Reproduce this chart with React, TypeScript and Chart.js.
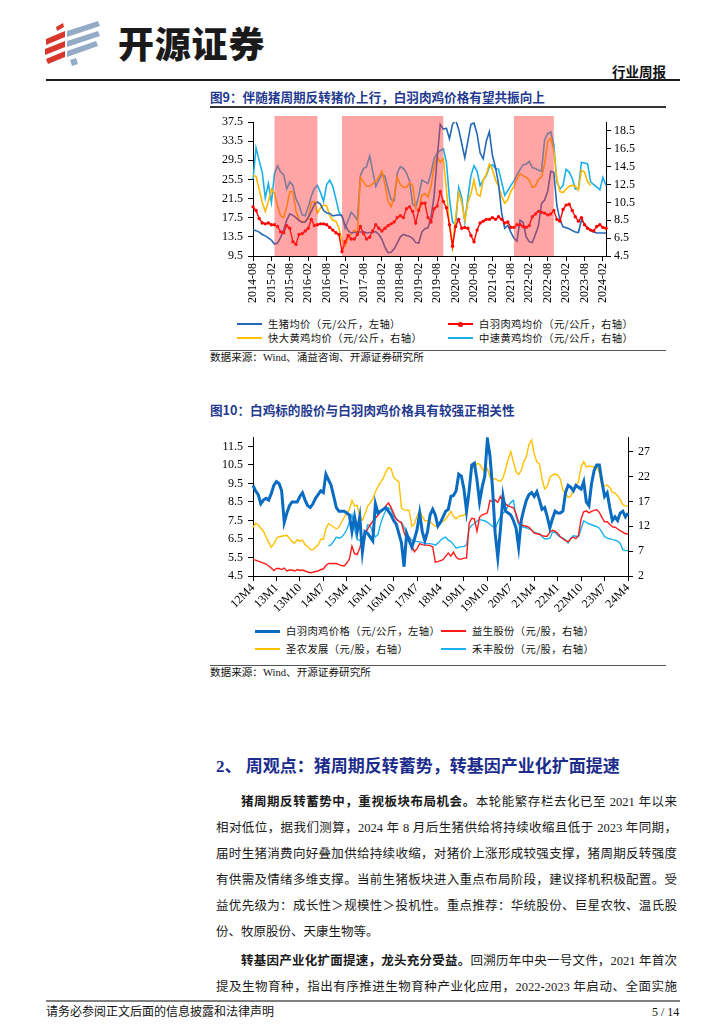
import React, { useEffect, useRef } from 'react';
import { Chart, registerables } from 'chart.js';

Chart.register(...registerables);

const CJK = '"Noto Sans CJK SC", "Noto Sans", sans-serif';
const MIX = '"Liberation Serif", "Noto Sans CJK SC", serif';
const TICK_FONT = { family: '"Liberation Serif", serif', size: 12 };

function buildMonthLabels(startYear: number, startMonth: number, count: number, fmt: (y: number, m: number) => string) {
  const out: string[] = [];
  let y = startYear;
  let m = startMonth;
  for (let i = 0; i < count; i++) {
    out.push(fmt(y, m));
    m++;
    if (m > 12) { m = 1; y++; }
  }
  return out;
}

// ---------------- Figure 9 ----------------
const fig9Labels = buildMonthLabels(2014, 8, 116, (y, m) => `${y}-${String(m).padStart(2, '0')}`);
const fig9LabelEvery = 6;
const fig9LeftTicks = [9.5, 13.5, 17.5, 21.5, 25.5, 29.5, 33.5, 37.5];
const fig9RightTicks = [4.5, 6.5, 8.5, 10.5, 12.5, 14.5, 16.5, 18.5];
const fig9ShadePeriods = [
  ['2015-03', '2016-05'],
  ['2017-01', '2019-10'],
  ['2021-09', '2022-10'],
];
const fig9Names = [
  '生猪均价（元/公斤，左轴）',
  '白羽肉鸡均价（元/公斤，右轴）',
  '快大黄鸡均价（元/公斤，右轴）',
  '中速黄鸡均价（元/公斤，右轴）',
];

const hogPrice = [
  15.0, 14.8, 14.5, 14.0, 13.7, 13.3, 12.8, 12.0, 12.2, 13.4,
  15.0, 17.0, 18.3, 18.0, 17.5, 16.9, 16.5, 16.6, 17.6, 18.8,
  20.3, 20.8, 20.3, 19.0, 18.5, 18.4, 17.9, 18.0, 18.1, 17.9,
  16.0, 14.8, 14.3, 14.4, 14.5, 14.5, 14.6, 14.3, 14.4, 14.4,
  14.6, 14.0, 13.0, 11.3, 10.2, 10.3, 11.0, 12.2, 13.5, 14.0,
  13.8, 13.6, 13.2, 12.3, 12.2, 14.5, 15.2, 15.4, 17.5, 22.0,
  30.0, 37.0, 36.0, 36.2, 34.0, 37.0, 37.9, 36.0, 33.0, 30.0,
  33.5, 37.0, 37.3, 35.0, 31.0, 29.8, 33.5, 35.5, 30.5, 28.0,
  24.5, 18.5, 15.3, 15.9, 14.5, 13.2, 12.6, 17.0, 16.5, 13.5,
  12.5, 12.3, 14.0, 15.8, 20.5, 21.2, 23.0, 27.2, 27.0, 20.0,
  17.0, 15.6, 15.4, 15.2, 14.8, 14.5, 14.4, 17.0, 16.2, 15.3,
  14.8, 14.5, 14.3, 14.3, 14.3, 14.3,
];

const whiteBroilerAvg = [
  10.0, 9.6, 8.7, 8.2, 8.1, 8.2, 8.0, 8.0, 7.8, 7.2,
  7.1, 7.9, 7.6, 6.1, 5.8, 6.9, 7.0, 7.3, 7.6, 8.6,
  7.9, 8.0, 8.1, 8.1, 8.0, 7.7, 7.4, 7.1, 6.9, 5.0,
  6.1, 6.8, 6.4, 6.4, 6.9, 7.8, 7.0, 6.4, 6.6, 7.3,
  8.0, 7.6, 7.3, 7.6, 7.9, 8.1, 8.3, 8.8, 9.0, 8.8,
  9.8, 10.0, 9.5, 8.2, 9.6, 10.4, 10.4, 8.8, 8.3, 9.8,
  10.1, 11.7, 10.6, 9.9, 8.0, 5.6, 7.8, 8.6, 7.6, 7.7,
  7.6, 6.8, 6.1, 7.4, 8.2, 8.4, 8.6, 8.6, 8.8, 8.6,
  8.9, 8.6, 8.2, 8.3, 7.7, 7.7, 8.0, 8.0, 7.8, 7.7,
  7.9, 8.9, 9.2, 9.5, 9.4, 9.3, 9.1, 9.2, 9.6, 8.6,
  8.4, 9.7, 10.2, 10.3, 9.6, 8.9, 8.4, 8.8, 8.0, 7.6,
  7.4, 7.3, 7.8, 8.0, 7.7, 7.6,
];

const fastYellowAvg = [
  13.5, 13.4, 12.0, 10.5, 9.5, 10.6, 12.0, 11.5, 10.1, 9.0,
  8.8, 10.0, 11.7, 11.7, 9.5, 8.6, 8.3, 8.4, 8.7, 10.5,
  10.6, 9.3, 9.9, 10.2, 10.1, 9.0, 8.5, 8.4, 7.6, 6.2,
  5.6, 6.6, 7.0, 7.4, 7.1, 13.3, 12.8, 12.3, 12.3, 12.6,
  12.9, 13.3, 14.0, 12.5, 10.6, 10.0, 11.2, 13.3, 12.5, 12.2,
  12.2, 12.7, 12.4, 9.8, 9.7, 11.3, 11.5, 11.1, 12.3, 14.5,
  15.6, 15.0, 15.4, 12.0, 8.0, 5.5, 8.8, 11.6, 10.5, 8.5,
  10.5, 11.5, 13.0, 11.4, 11.2, 13.0, 13.6, 14.8, 14.2, 13.0,
  12.3, 11.2, 10.4, 10.8, 11.7, 12.3, 13.2, 13.7, 13.5, 13.3,
  13.0, 12.2, 12.3, 13.1, 13.3, 14.8, 17.3, 17.7, 16.3, 13.0,
  11.7, 11.6, 12.0, 12.3, 12.4, 12.3, 11.9, 14.1, 13.9, 12.8,
  12.4, null, null, null, null, null,
];

const mediumYellowAvg = [
  13.1, 16.6, 15.2, 13.9, 11.0, 12.6, 10.5, 13.7, 14.6, 13.9,
  13.6, 12.0, 12.8, 12.4, 10.9, 10.2, 9.1, 9.0, 10.0, 11.2,
  12.1, 12.4, 11.6, 10.6, 12.5, 13.0, 12.3, 10.9, 9.4, 9.0,
  7.6, 8.5, 9.4, 9.0, 8.5, 13.5, 14.3, 14.5, 15.7, 14.0,
  12.3, 13.0, 13.7, 13.4, 12.0, 10.8, 10.7, 13.8, 14.5, 14.3,
  13.8, 12.9, 10.3, 10.0, 11.2, 13.0, 12.8, 12.6, 13.8, 15.4,
  16.0, 16.3, 16.5, 15.0, 11.0, 8.3, 8.0, 12.2, 11.0, 8.3,
  11.0, 13.5, 14.6, 14.0, 12.4, 13.0, 13.5, 14.5, 14.7, 14.3,
  14.2, 12.8, 11.3, 11.8, 12.4, 12.9, 13.6, 14.2, 14.7, 14.8,
  15.1, 14.4, 14.3, 14.1, 14.0, 17.5, 18.2, 18.4, 17.0, 12.8,
  12.0, 12.4, 14.2, 13.9, 13.2, 12.0, 12.0, 15.0, 14.9, 14.8,
  12.8, 12.5, 12.2, 11.9, 13.3, 12.4,
];

// ---------------- Figure 10 ----------------
const fig10Labels = buildMonthLabels(2012, 4, 145, (y, m) => `${String(y).slice(2)}M${m}`);
const fig10LabelEvery = 9;
const fig10LeftTicks = [4.5, 5.5, 6.5, 7.5, 8.5, 9.5, 10.5, 11.5];
const fig10RightTicks = [2, 7, 12, 17, 22, 27];
const fig10Names = [
  '白羽肉鸡价格（元/公斤，左轴）',
  '益生股份（元/股，右轴）',
  '圣农发展（元/股，右轴）',
  '禾丰股份（元/股，右轴）',
];

const broilerPrice = [
  9.4, 9.1, 8.9, 8.4, 8.6, 8.7, 8.6, 8.95, 9.4, 9.6,
  9.5, 9.1, 7.4, 7.9, 8.3, 8.5, 8.5, 8.5, 8.8, 9.0,
  8.6, 8.3, 8.2, 8.4, 8.7, 8.9, 9.1, 9.0, 10.0, 9.7,
  9.4, 8.8, 8.2, 8.0, 8.0, 8.0, 7.9, 7.8, 6.9, 7.7,
  6.9, 7.7, 5.8, 6.9, 6.8, 6.6, 6.4, 8.4, 7.9, 8.0,
  8.1, 8.2, 8.0, 7.8, 7.5, 7.3, 6.8, 6.3, 5.0, 6.8,
  6.4, 6.05, 6.5, 7.0, 7.9, 6.9, 6.4, 6.9, 7.8, 8.1,
  7.8, 7.2, 7.4, 7.7, 8.0, 8.1, 8.8, 8.85, 9.1, 10.0,
  9.9, 9.2, 8.0, 9.1, 10.5, 10.6, 9.7, 8.5, 9.3, 9.9,
  11.9, 11.0, 9.2, 6.8, 5.5, 7.0, 8.8, 8.0, 7.9, 7.8,
  7.5, 7.1, 6.05, 7.5, 8.1, 8.6, 8.9, 9.0, 8.8, 9.05,
  8.6, 8.1, 8.2, 7.7, 7.1, 7.6, 8.0, 7.9, 7.9, 8.0,
  9.0, 9.4, 9.3, 9.1, 9.4, 9.3, 9.2, 9.6, 8.5, 8.3,
  9.5, 10.2, 10.5, 10.5, 9.6, 8.8, 9.0, 8.2, 7.5, 7.7,
  7.5, 7.9, 8.0, 7.7, 7.9,
];

const yishengShare = [
  5.3, 5.2, 5.0, 4.8, 4.6, 4.4, 4.0, 3.6, 3.1, 3.5,
  3.5, 3.3, 3.6, 3.0, 3.2, 3.2, 3.0, 3.3, 3.1, 3.2,
  3.0, 2.8, 2.65, 2.75, 2.9, 3.0, 3.3, 3.4, 4.1, 4.5,
  4.5, 4.5, 4.5, 4.3, 4.1, 4.0, 4.6, 5.4, 8.0, 6.5,
  6.3, 7.6, 9.6, 10.4, 11.4, 12.3, 13.0, 13.6, 14.2, 14.9,
  15.4, 16.1, 16.7, 15.8, 14.6, 13.4, 13.0, 12.7, 10.8, 9.4,
  9.7, 8.0, 6.9, 7.5, 8.5, 8.3, 8.2, 8.2, 8.1, 7.9,
  4.8, 4.9, 5.1, 5.3, 6.0, 6.6, 6.0, 6.8, 5.8, 5.4,
  5.4, 5.6, 5.6, 12.6, 13.6, 13.5, 11.0, 13.8, 14.3, 14.5,
  14.7, 17.2, 17.0, 17.3, 16.8, 18.0, 17.0, 16.5, 16.1, 15.9,
  15.7, 14.5, 12.8, 12.3, 12.1, 12.0, 11.8, 11.2, 10.6, 10.5,
  10.4, 10.1, 10.0, 10.0, 10.8, 11.2, 11.0, 10.6, 9.9, 9.5,
  9.1, 8.9, 9.5, 9.8, 9.5, 10.2, 13.5, 14.9, 15.1, 14.7,
  15.0, 15.2, 15.3, 14.8, 13.8, 12.9, 12.9, 12.4, 11.9, 11.8,
  11.5, 11.1, 10.8, 10.5, 10.5,
];

const shengnongShare = [
  11.8, 12.6, 12.3, 11.6, 11.0, 9.9, 8.8, 7.8, 8.4, 9.6,
  9.9, 10.0, 10.1, 10.2, 9.6, 8.9, 8.6, 9.3, 9.0, 9.2,
  8.3, 7.9, 7.3, 7.3, 7.8, 8.2, 9.4, 9.4, 11.5, 12.5,
  12.2, 11.8, 11.5, 11.8, 12.8, 13.8, 14.6, 15.4, 17.2, 16.1,
  16.2, 13.8, 13.2, 14.4, 16.0, 16.7, 17.5, 18.9, 20.0, 20.8,
  21.6, 22.9, 23.8, 23.6, 21.8, 21.3, 21.0, 15.7, 15.3, 15.2,
  15.2, 12.0, 12.5, 14.0, 15.1, 14.0, 13.1, 13.1, 12.9, 12.4,
  12.0, 12.2, 12.8, 13.0, 13.4, 14.2, 15.0, 14.0, 13.5, 14.0,
  14.1, 14.2, 14.8, 20.0, 24.3, 23.6, 24.6, 24.5, 23.6, 22.9,
  23.6, 21.9, 21.4, 21.6, 21.2, 21.0, 21.7, 23.5, 25.5, 27.0,
  24.9, 23.0, 22.4, 23.2, 25.0, 26.0, 28.5, 29.3, 26.5, 24.9,
  24.5, 21.5, 19.5, 20.0, 21.8, 22.3, 22.5, 22.3, 21.5, 19.2,
  18.6, 17.8, 18.0, 19.2, 20.0, 21.0, 24.0, 25.0, 23.9, 24.1,
  24.0, 23.9, 24.2, 22.7, 20.0, 20.1, 20.3, 19.8, 18.8, 18.7,
  18.1, 17.4, 16.3, 16.1, 16.1,
];

const hefengShare = [
  null, null, null, null, null, null, null, null, null, null,
  null, null, null, null, null, null, null, null, null, null,
  null, null, null, null, null, null, null, null, null, 8.0,
  8.3, 9.0, 9.8, 9.6, 9.8, 10.4, 11.3, 12.8, 14.3, 11.5,
  9.3, 9.2, 8.2, 9.8, 12.3, 12.2, 10.6, 9.9, 10.3, 12.5,
  14.0, 15.2, 15.7, 15.4, 14.0, 13.6, 13.0, 12.8, 11.8, 10.6,
  9.8, 9.2, 9.0, 8.9, 8.9, 8.7, 8.5, 8.5, 8.5, 8.4,
  8.2, 8.6, 9.2, 9.6, 9.8, 9.2, 8.9, 8.3, 7.6, 7.8,
  7.9, 7.9, 8.2, 11.5, 12.2, 12.5, 13.0, 13.4, 13.2, 13.1,
  12.8, 12.4, 12.0, 11.5, 12.8, 13.9, 14.6, 15.1, 16.1, 16.8,
  17.2, 14.0, 12.3, 12.0, 11.8, 11.7, 11.5, 11.2, 10.8, 10.6,
  10.5, 9.9, 9.5, 9.5, 9.6, 10.8, 10.8, 10.2, 9.8, 9.6,
  9.3, 8.6, 9.6, 10.1, 10.0, 9.9, 11.5, 13.1, 12.8, 12.5,
  12.3, 12.1, 11.9, 11.6, 10.8, 9.9, 9.6, 9.5, 9.3, 9.2,
  9.0, 8.6, 7.3, 7.1, 7.1,
];

// ---------------- Page text ----------------
const para1Lines = [
  '相对低位，据我们测算，2024 年 8 月后生猪供给将持续收缩且低于 2023 年同期，',
  '届时生猪消费向好叠加供给持续收缩，对猪价上涨形成较强支撑，猪周期反转强度',
  '有供需及情绪多维支撑。当前生猪板块进入重点布局阶段，建议择机积极配置。受',
  '益优先级为：成长性＞规模性＞投机性。重点推荐：华统股份、巨星农牧、温氏股',
];

function axisBase(extra: any) {
  return {
    grid: { display: true, drawOnChartArea: false, drawTicks: true, tickLength: 5, color: '#000', lineWidth: 1 },
    border: { display: true, color: '#000', width: 1 },
    ...extra,
  };
}

function makeFig9Config() {
  const shadePlugin = {
    id: 'shadePeriods',
    afterDatasetsDraw(chart: any) {
      const { ctx, chartArea, scales } = chart;
      const x = scales.x;
      ctx.save();
      ctx.fillStyle = 'rgba(255, 55, 55, 0.45)';
      for (const [a, b] of fig9ShadePeriods) {
        const x0 = x.getPixelForValue(fig9Labels.indexOf(a));
        const x1 = x.getPixelForValue(fig9Labels.indexOf(b));
        ctx.fillRect(x0, chartArea.top - 6, x1 - x0, chartArea.bottom - chartArea.top + 6);
      }
      ctx.restore();
    },
  };
  return {
    type: 'line',
    data: {
      labels: fig9Labels,
      datasets: [
        { label: fig9Names[1], data: whiteBroilerAvg, yAxisID: 'y1', borderColor: '#FF0000', backgroundColor: '#FF0000', borderWidth: 1.4, pointRadius: 1.7, pointBorderWidth: 0, pointBackgroundColor: '#FF0000', tension: 0 },
        { label: fig9Names[0], data: hogPrice, yAxisID: 'y', borderColor: '#2468B8', borderWidth: 1.6, pointRadius: 0, tension: 0 },
        { label: fig9Names[2], data: fastYellowAvg, yAxisID: 'y1', borderColor: '#FFB800', borderWidth: 1.6, pointRadius: 0, tension: 0 },
        { label: fig9Names[3], data: mediumYellowAvg, yAxisID: 'y1', borderColor: '#1AAFE8', borderWidth: 1.6, pointRadius: 0, tension: 0 },
      ],
    },
    options: {
      animation: false,
      responsive: false,
      maintainAspectRatio: false,
      layout: { padding: { top: 14, left: 0, right: 0, bottom: 0 } },
      plugins: { legend: { display: false }, tooltip: { enabled: false } },
      scales: {
        x: axisBase({
          type: 'category',
          offset: false,
          ticks: { autoSkip: false, minRotation: 90, maxRotation: 90, font: TICK_FONT, color: '#000', padding: 2 },
          afterBuildTicks: (s: any) => { s.ticks = s.ticks.filter((t: any) => t.value % fig9LabelEvery === 0); },
          afterFit: (s: any) => { s.height = 58; },
        }),
        y: axisBase({
          position: 'left',
          min: fig9LeftTicks[0],
          max: fig9LeftTicks[fig9LeftTicks.length - 1],
          ticks: { font: TICK_FONT, color: '#000', padding: 5, callback: (v: any) => Number(v).toFixed(1) },
          afterBuildTicks: (s: any) => { s.ticks = fig9LeftTicks.map((v) => ({ value: v })); },
          afterFit: (s: any) => { s.width = 43; },
        }),
        y1: axisBase({
          position: 'right',
          min: 4.5,
          max: 19.5,
          ticks: { font: TICK_FONT, color: '#000', padding: 3, callback: (v: any) => Number(v).toFixed(1) },
          afterBuildTicks: (s: any) => { s.ticks = fig9RightTicks.map((v) => ({ value: v })); },
          afterFit: (s: any) => { s.width = 60; },
        }),
      },
    },
    plugins: [shadePlugin],
  };
}

function makeFig10Config() {
  return {
    type: 'line',
    data: {
      labels: fig10Labels,
      datasets: [
        { label: fig10Names[0], data: broilerPrice, yAxisID: 'y', borderColor: '#0A6CC0', borderWidth: 3, pointRadius: 0, tension: 0 },
        { label: fig10Names[1], data: yishengShare, yAxisID: 'y1', borderColor: '#FF1A1A', borderWidth: 1.4, pointRadius: 0, tension: 0 },
        { label: fig10Names[2], data: shengnongShare, yAxisID: 'y1', borderColor: '#FFC000', borderWidth: 1.4, pointRadius: 0, tension: 0 },
        { label: fig10Names[3], data: hefengShare, yAxisID: 'y1', borderColor: '#1AB2F0', borderWidth: 1.4, pointRadius: 0, tension: 0 },
      ],
    },
    options: {
      animation: false,
      responsive: false,
      maintainAspectRatio: false,
      layout: { padding: { top: 9, left: 0, right: 0, bottom: 0 } },
      plugins: { legend: { display: false }, tooltip: { enabled: false } },
      scales: {
        x: axisBase({
          type: 'category',
          offset: false,
          ticks: { autoSkip: false, minRotation: 45, maxRotation: 45, font: TICK_FONT, color: '#000', padding: 0 },
          afterBuildTicks: (s: any) => { s.ticks = s.ticks.filter((t: any) => t.value % fig10LabelEvery === 0); },
          afterFit: (s: any) => { s.height = 39; },
        }),
        y: axisBase({
          position: 'left',
          min: 4.5,
          max: 12.0,
          ticks: { font: TICK_FONT, color: '#000', padding: 5, callback: (v: any) => Number(v).toFixed(1) },
          afterBuildTicks: (s: any) => { s.ticks = fig10LeftTicks.map((v) => ({ value: v })); },
          afterFit: (s: any) => { s.width = 43; },
        }),
        y1: axisBase({
          position: 'right',
          min: 2,
          max: 29.9,
          ticks: { font: TICK_FONT, color: '#000', padding: 5, callback: (v: any) => String(v) },
          afterBuildTicks: (s: any) => { s.ticks = fig10RightTicks.map((v) => ({ value: v })); },
          afterFit: (s: any) => { s.width = 38; },
        }),
      },
    },
  };
}

const abs = (left: number, top: number, extra: any = {}) => ({ position: 'absolute' as const, left, top, ...extra });

function Txt({ x, cy, size, children, bold, color, family, extra }: any) {
  const lh = Math.round(size * 1.5);
  return (
    <div
      style={abs(x, cy - lh / 2 - size * 0.06, {
        fontSize: size,
        lineHeight: `${lh}px`,
        fontWeight: bold ? 700 : 400,
        color: color || '#000',
        fontFamily: family || CJK,
        whiteSpace: 'nowrap',
        ...(extra || {}),
      })}
    >
      {children}
    </div>
  );
}

function LegendItem({ x, cy, color, thick, marker, label }: any) {
  return (
    <>
      <div style={abs(x, cy - thick / 2, { width: 25, height: thick, background: color })} />
      {marker ? <div style={abs(x + 10, cy - 2.5, { width: 5, height: 5, borderRadius: '50%', background: color })} /> : null}
      <Txt x={x + 31} cy={cy} size={10.3} color="#111" extra={{ letterSpacing: '0.4px' }}>{label}</Txt>
    </>
  );
}

function HLine({ x, y, w, h, color }: any) {
  return <div style={abs(x, y, { width: w, height: h, background: color })} />;
}

function Logo() {
  return (
    <svg style={abs(40, 16)} width={68} height={54} viewBox="40 16 68 54">
      <g fill="#D8382B">
        <polygon points="56,27 63,23 64,27 57,31" />
        <polygon points="46,39 65,31 65,37 46,45" />
        <polygon points="45,49 65,41 65,47 45,55" />
        <polygon points="46,59 65,51 65,57 48,64" />
      </g>
      <g fill="#93ABC7">
        <polygon points="67,31 98,21 100,26 67,37" />
        <polygon points="67,41 98,31 100,36 67,47" />
        <polygon points="67,51 96,41 98,46 67,57" />
        <polygon points="70,60 76,58 78,64 72,66" />
      </g>
    </svg>
  );
}

export default function App() {
  const ref9 = useRef<HTMLCanvasElement | null>(null);
  const ref10 = useRef<HTMLCanvasElement | null>(null);

  useEffect(() => {
    const c9 = new Chart(ref9.current as any, makeFig9Config() as any);
    const c10 = new Chart(ref10.current as any, makeFig10Config() as any);
    return () => {
      c9.destroy();
      c10.destroy();
    };
  }, []);

  const paraStyle = {
    fontSize: 12.5,
    lineHeight: '20px',
    fontFamily: MIX,
    color: '#1a1a1a',
    width: 461,
    textAlign: 'justify' as const,
    textAlignLast: 'justify' as const,
  };
  const paraTop = [802, 828, 854, 880, 906, 932];

  return (
    <div style={{ position: 'absolute', left: 0, top: 0, width: 724, height: 1024, background: '#fff', overflow: 'hidden' }}>
      <Logo />
      <Txt x={118} cy={44} size={36} bold color="#1a1a1a" extra={{ fontWeight: 900, letterSpacing: '0.8px' }}>开源证券</Txt>
      <Txt x={612} cy={72} size={13.5} bold color="#111">行业周报</Txt>
      <HLine x={46} y={79} w={634} h={2} color="#1a1a1a" />

      <Txt x={210} cy={97} size={12.6} bold color="#1F3A8F">图9：伴随猪周期反转猪价上行，白羽肉鸡价格有望共振向上</Txt>
      <HLine x={210} y={106} w={456} h={1.5} color="#333" />
      <canvas ref={ref9} width={456} height={206} style={abs(210, 108, { width: 456, height: 206 })} />
      <LegendItem x={237} cy={324} color="#2468B8" thick={2} label={fig9Names[0]} />
      <LegendItem x={448} cy={324} color="#FF0000" thick={1.5} marker label={fig9Names[1]} />
      <LegendItem x={237} cy={338} color="#FFC000" thick={2.5} label={fig9Names[2]} />
      <LegendItem x={448} cy={338} color="#1AAFE8" thick={2.5} label={fig9Names[3]} />
      <HLine x={210} y={350} w={456} h={1} color="#555" />
      <Txt x={210} cy={359} size={10.6} family={MIX} color="#111">数据来源：Wind、涌益咨询、开源证券研究所</Txt>

      <Txt x={210} cy={410} size={12.6} bold color="#1F3A8F">图10：白鸡标的股价与白羽肉鸡价格具有较强正相关性</Txt>
      <canvas ref={ref10} width={456} height={190} style={abs(210, 425, { width: 456, height: 190 })} />
      <LegendItem x={255} cy={631} color="#0A6CC0" thick={3} label={fig10Names[0]} />
      <LegendItem x={441} cy={631} color="#FF1A1A" thick={1.5} label={fig10Names[1]} />
      <LegendItem x={255} cy={649} color="#FFC000" thick={2.5} label={fig10Names[2]} />
      <LegendItem x={441} cy={649} color="#1AB2F0" thick={2.5} label={fig10Names[3]} />
      <HLine x={210} y={665} w={456} h={1} color="#555" />
      <Txt x={210} cy={674} size={10.6} family={MIX} color="#111">数据来源：Wind、开源证券研究所</Txt>

      <Txt x={216} cy={768} size={17} bold color="#1C2C8C" family={MIX}>2、 周观点：猪周期反转蓄势，转基因产业化扩面提速</Txt>

      <div style={abs(216, paraTop[0] - 10, { ...paraStyle, paddingLeft: 25, width: 436 })}>
        <b style={{ fontWeight: 700 }}>猪周期反转蓄势中，重视板块布局机会。</b>本轮能繁存栏去化已至 2021 年以来
      </div>
      {para1Lines.map((t, i) => (
        <div key={i} style={abs(216, paraTop[i + 1] - 10, paraStyle)}>{t}</div>
      ))}
      <div style={abs(216, paraTop[5] - 10, { ...paraStyle, textAlignLast: 'left' })}>份、牧原股份、天康生物等。</div>

      <div style={abs(216, 961 - 10, { ...paraStyle, paddingLeft: 25, width: 436 })}>
        <b style={{ fontWeight: 700 }}>转基因产业化扩面提速，龙头充分受益。</b>回溯历年中央一号文件，2021 年首次
      </div>
      <div style={abs(216, 987 - 10, paraStyle)}>提及生物育种，指出有序推进生物育种产业化应用，2022-2023 年启动、全面实施</div>

      <HLine x={46} y={1000} w={634} h={2} color="#7f7f7f" />
      <Txt x={46} cy={1013} size={12} family={MIX} color="#111">请务必参阅正文后面的信息披露和法律声明</Txt>
      <Txt x={652} cy={1013} size={12} family={MIX} color="#111">5 / 14</Txt>
    </div>
  );
}
